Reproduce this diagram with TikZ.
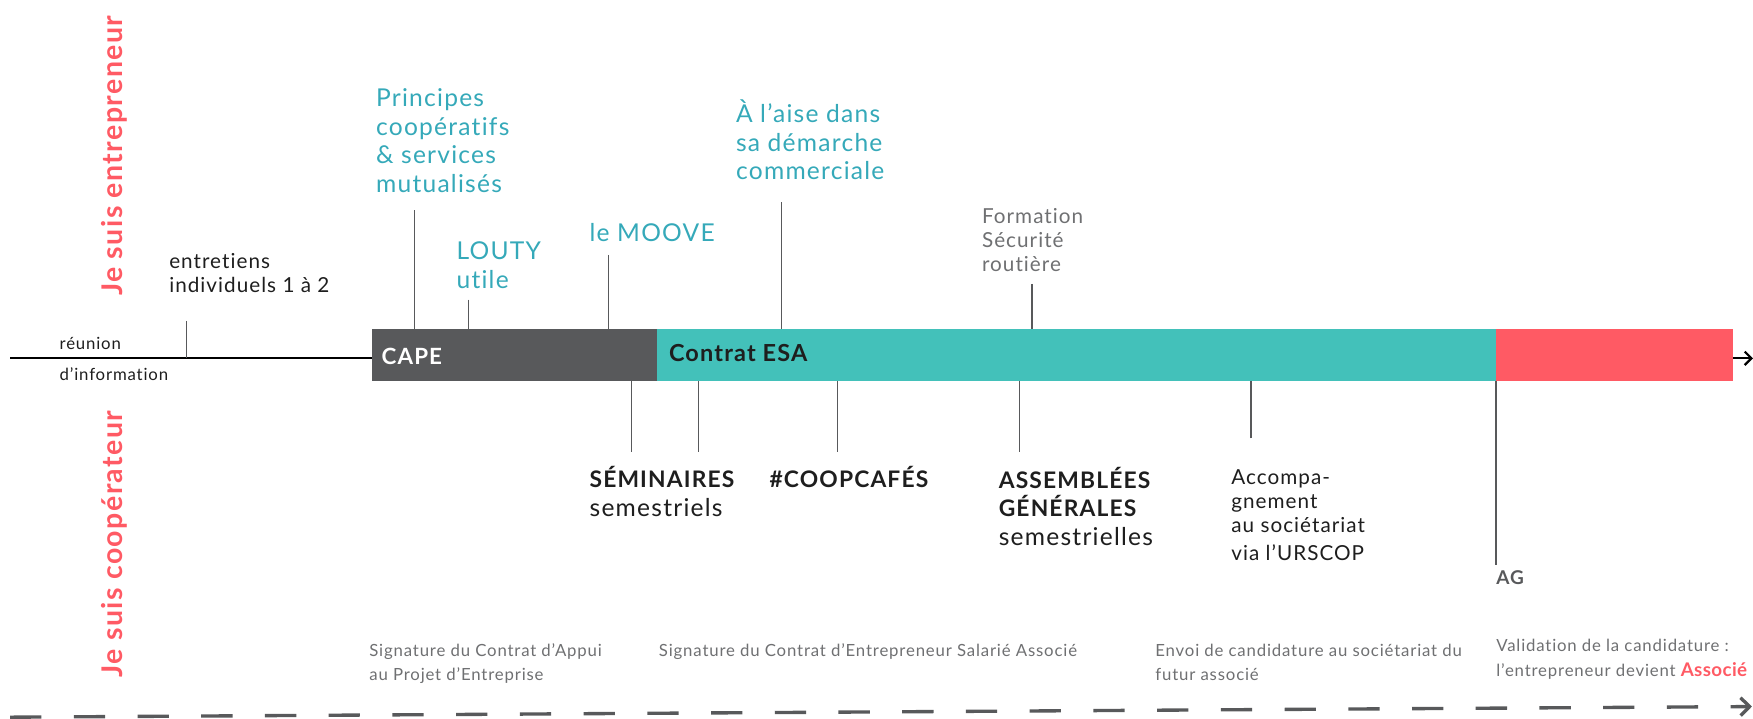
\documentclass[tikz,border=0pt]{standalone}
\usepackage{fontspec}
\setmainfont{Lato}[LetterSpace=5, Ligatures={NoCommon,NoDiscretionary}]
\usetikzlibrary{arrows.meta}

\definecolor{grisbar}{HTML}{58595B}
\definecolor{turq}{HTML}{43C1BA}
\definecolor{rouge}{HTML}{FF5A64}
\definecolor{turqtxt}{HTML}{35A9B9}
\definecolor{noir}{HTML}{1E1E1E}
\definecolor{grislite}{HTML}{6F7072}

\tikzset{
 tick/.style={draw=grisbar, line width=0.6pt},
 bar/.style={minimum height=23.5pt, inner sep=0pt, outer sep=0pt, anchor=north west},
 txt/.style={align=left, anchor=base west, inner sep=0pt},
 big/.style={txt, font=\fontsize{11}{12.8}\selectfont},
 med/.style={txt, font=\fontsize{9.25}{10.75}\selectfont},
 small/.style={txt, font=\fontsize{7.5}{11}\selectfont, text=grislite},
 vert/.style={rotate=90, anchor=base west, inner sep=0pt, text=rouge, font=\fontsize{12.75}{14}\selectfont\bfseries},
}
\newcommand{\titre}[1]{{\fontsize{10.2}{12.8}\selectfont\bfseries #1}}

\begin{document}
\begin{tikzpicture}[x=0.5pt, y=-0.5pt]
\useasboundingbox (0,0) rectangle (1568,643);
% timeline
\coordinate (debut) at (9,320.5);
\coordinate (fin) at (1568,320.5);
\draw[line width=1pt, -{Straight Barb[length=3pt,width=6pt]}] (debut) -- (fin);
% phases
\node[bar, fill=grisbar, minimum width=127.75pt] (cape) at (332.5,294) {};
\node[bar, fill=turq, minimum width=375pt] (esa) at (588,294) {};
\node[bar, fill=rouge, minimum width=106pt] (assoc) at (1338,294) {};
\node[txt, text=white, font=\fontsize{10}{12}\selectfont\bfseries] (capetxt) at (341,326) {CAPE};
\node[txt, text=noir, font=\fontsize{10.5}{12}\selectfont\bfseries] (esatxt) at (598,323) {Contrat ESA};

% side titles
\node[vert] (entrep) at (110,265) {Je suis entrepreneur};
\node[vert] (coop) at (110,606.5) {Je suis coopérateur};

% above the line (multi-line nodes sit on their last line)
\node[txt, text=noir, font=\fontsize{7.5}{9}\selectfont] (reunion) at (53,313) {réunion};
\node[txt, text=noir, font=\fontsize{7.5}{9}\selectfont] (info) at (53,340) {d’information};
\node[med, text=noir] (entretiens) at (151,262) {entretiens\\individuels 1 à 2};
\node[big, text=turqtxt] (principes) at (336,172) {Principes\\coopératifs\\\& services\\mutualisés};
\node[big, text=turqtxt] (louty) at (408,258) {LOUTY\\utile};
\node[big, text=turqtxt] (moove) at (527,216) {le MOOVE};
\node[big, text=turqtxt] (aise) at (658,161) {À l’aise dans\\sa démarche\\commerciale};
\node[med, text=grislite] (formation) at (878,243) {Formation\\Sécurité\\routière};

% below the line
\node[big, text=noir] (semin) at (527,462) {\titre{SÉMINAIRES}\\semestriels};
\node[big, text=noir] (cafes) at (688,436) {\titre{\#COOPCAFÉS}};
\node[big, text=noir] (assemb) at (893,488) {\titre{ASSEMBLÉES}\\\titre{GÉNÉRALES}\\semestrielles};
\node[med, text=noir] (accomp) at (1101,501) {Accompa-\\gnement\\au sociétariat\\[1.5pt]via l’URSCOP};
\node[txt, text=grisbar, font=\fontsize{8.5}{10}\selectfont\bfseries] (agtxt) at (1338,523) {AG};

% ticks
\coordinate (tEntre) at (167,287);
\coordinate (tPrinc) at (371,188);
\coordinate (tLouty) at (419,268);
\coordinate (tMoove) at (544,228);
\coordinate (tAise) at (699,181);
\coordinate (tForm) at (923,254);
\coordinate (tSemA) at (565,404);
\coordinate (tSemB) at (625,404);
\coordinate (tCafe) at (749,404);
\coordinate (tAssem) at (912,404);
\coordinate (tAccomp) at (1119,392);
\coordinate (tVote) at (1338,505);
\draw[tick] (tEntre) -- (tEntre |- debut);
\foreach \t/\b in {tPrinc/cape.north, tLouty/cape.north, tMoove/cape.north,
                   tAise/esa.north, tForm/esa.north,
                   tSemA/cape.south, tSemB/esa.south, tCafe/esa.south,
                   tAssem/esa.south, tAccomp/esa.south, tVote/esa.south}
  \draw[tick] (\t) -- (\t |- \b);

% steps
\node[small] (sigcape) at (330,609) {Signature du Contrat d’Appui\\au Projet d’Entreprise};
\node[small] (sigesa) at (589,587) {Signature du Contrat d’Entrepreneur Salarié Associé};
\node[small] (envoi) at (1033,609) {Envoi de candidature au sociétariat du\\futur associé};
\node[small] (valid) at (1338,605) {Validation de la candidature :\\l’entrepreneur devient {\fontsize{8.4}{11}\selectfont\bfseries\addfontfeatures{LetterSpace=2}\color{rouge}Associé}};

% path
\coordinate (pDebut) at (9,641.5);
\coordinate (pFin) at (1567,632);
\draw[grisbar, line width=1.5pt, dash pattern=on 14pt off 14.5pt,
      -{Straight Barb[length=4pt,width=8pt]}] (pDebut) -- (pFin);
\end{tikzpicture}
\end{document}
